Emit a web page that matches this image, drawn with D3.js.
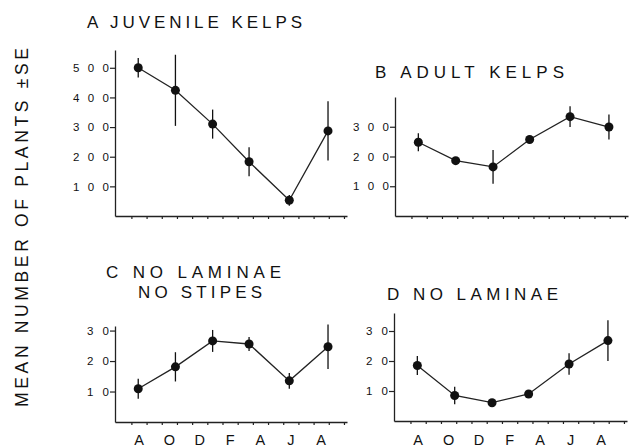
<!DOCTYPE html>
<html>
<head>
<meta charset="utf-8">
<script src="https://cdn.jsdelivr.net/npm/d3@7"></script>
<style>
  body { margin: 0; background: #fff; }
  svg { display: block; }
  text { font-family: "Liberation Sans", Arial, sans-serif; fill: #111; }
</style>
</head>
<body>
<svg id="chart"></svg>
<script>
// sampling dates, in months after 1 August
const sampleMonths = [0.45, 2.9, 5.35, 7.75, 10.4, 12.95];
const monthTicks = [0, 1, 2, 3, 4, 5, 6, 7, 8, 9, 10, 11, 12, 13, 14];
const monthLabels = ["A", "O", "D", "F", "A", "J", "A"];

const juvenileMean = [500, 424, 310, 183, 53, 287];
const juvenileSE = [33, 120, 49, 49, 18, 100];
const adultMean = [248, 186, 165, 257, 334, 299];
const adultSE = [30, 12, 57, 10, 35, 42];
const noStipesMean = [10.9, 18.1, 26.6, 25.6, 13.5, 24.7];
const noStipesSE = [3.3, 4.8, 3.6, 2.3, 2.6, 7.3];
const noLaminaeMean = [18.5, 8.5, 6.1, 9.0, 19.0, 26.8];
const noLaminaeSE = [3.2, 2.9, 1, 1, 3.6, 6.8];

const juvenileTicks = [100, 200, 300, 400, 500];
const adultTicks = [100, 200, 300];
const smallTicks = [10, 20, 30];

const yLabel = "MEAN NUMBER OF PLANTS \u00b1SE";

const width = 631, height = 448;

const svg = d3.select("#chart").attr("width", width).attr("height", height);

const panels = [
  { mean: juvenileMean, se: juvenileSE, ticks: juvenileTicks, max: 560,
    x0: 115, x1: 347, y0: 216, y1: 50, labels: false,
    title: [{ t: "A JUVENILE KELPS", x: 87, y: 28, w: 215 }] },
  { mean: adultMean, se: adultSE, ticks: adultTicks, max: 400,
    x0: 395, x1: 628, y0: 216, y1: 97, labels: false,
    title: [{ t: "B ADULT KELPS", x: 375, y: 78, w: 189 }] },
  { mean: noStipesMean, se: noStipesSE, ticks: smallTicks, max: 31.5,
    x0: 115, x1: 347, y0: 422, y1: 326, labels: true,
    title: [{ t: "C NO LAMINAE", x: 106, y: 278, w: 175 },
            { t: "NO STIPES", x: 138, y: 298, w: 124 }] },
  { mean: noLaminaeMean, se: noLaminaeSE, ticks: smallTicks, max: 36,
    x0: 394, x1: 627, y0: 421, y1: 313, labels: true,
    title: [{ t: "D NO LAMINAE", x: 387, y: 300, w: 171 }] }
];

panels.forEach(p => {
  const x = d3.scaleLinear().domain([-1.08, 14.2]).range([p.x0, p.x1]);
  const y = d3.scaleLinear().domain([0, p.max]).range([p.y0, p.y1]);
  const g = svg.append("g");
  const pts = p.mean.map((v, i) => ({ m: sampleMonths[i], v: v, se: p.se[i] }));

  // x axis, one tick per month
  const xa = g.append("g")
    .attr("transform", "translate(0," + p.y0 + ")")
    .call(d3.axisBottom(x).tickValues(monthTicks).tickSize(3).tickSizeOuter(0).tickFormat(""));
  xa.select(".domain").attr("stroke", "#222").attr("stroke-width", 1.3);
  xa.selectAll(".tick line").attr("stroke", "#222").attr("stroke-width", 1.2);

  // y axis
  const ya = g.append("g")
    .attr("transform", "translate(" + p.x0 + ",0)")
    .call(d3.axisLeft(y).tickValues(p.ticks).tickSize(5).tickPadding(1).tickSizeOuter(0));
  ya.select(".domain").attr("stroke", "#222").attr("stroke-width", 1.3);
  ya.selectAll(".tick line").attr("stroke", "#222").attr("stroke-width", 1.2);
  ya.selectAll(".tick text")
    .attr("font-family", "Liberation Sans, Arial, sans-serif")
    .attr("font-size", 11.5)
    .attr("fill", "#111")
    .attr("lengthAdjust", "spacing")
    .attr("textLength", d => String(d).length === 3 ? 36 : 22);

  if (p.labels) {
    g.selectAll(".mlab")
      .data(monthLabels)
      .enter()
      .append("text")
      .attr("class", "mlab")
      .attr("x", (d, i) => x(i * 2 + 0.5))
      .attr("y", 445)
      .attr("text-anchor", "middle")
      .attr("font-size", 14.5)
      .text(d => d);
  }

  // error bars
  g.selectAll(".err")
    .data(pts)
    .enter()
    .append("line")
    .attr("x1", d => x(d.m))
    .attr("x2", d => x(d.m))
    .attr("y1", d => y(d.v - d.se))
    .attr("y2", d => y(d.v + d.se))
    .attr("stroke", "#111")
    .attr("stroke-width", 1.3);

  g.append("path")
    .datum(pts)
    .attr("fill", "none")
    .attr("stroke", "#222")
    .attr("stroke-width", 1.3)
    .attr("d", d3.line().x(d => x(d.m)).y(d => y(d.v)));

  g.selectAll(".dot")
    .data(pts)
    .enter()
    .append("circle")
    .attr("cx", d => x(d.m))
    .attr("cy", d => y(d.v))
    .attr("r", 4.5)
    .attr("fill", "#111");

  p.title.forEach(t => {
    svg.append("text")
      .attr("x", t.x)
      .attr("y", t.y)
      .attr("font-size", 17)
      .attr("lengthAdjust", "spacing")
      .attr("textLength", t.w)
      .text(t.t);
  });
});

svg.append("text")
  .attr("transform", "translate(27.5,407) rotate(-90)")
  .attr("font-size", 17.5)
  .attr("fill", "#222")
  .attr("lengthAdjust", "spacing")
  .attr("textLength", 359)
  .text(yLabel);
</script>
</body>
</html>
